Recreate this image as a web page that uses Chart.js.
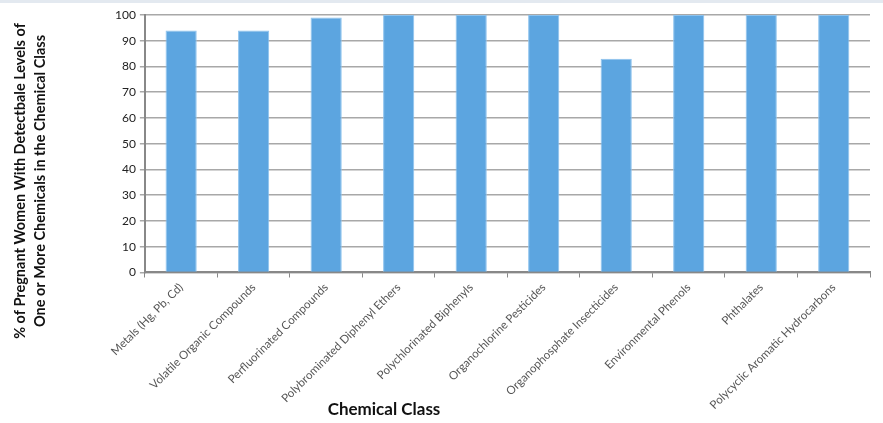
<!DOCTYPE html>
<html>
<head>
<meta charset="utf-8">
<script src="https://cdn.jsdelivr.net/npm/chart.js@4.4.1/dist/chart.umd.min.js"></script>
<style>
  html, body { margin: 0; padding: 0; background: #fff; }
  #wrap { width: 883px; height: 423px; position: relative; border-top: 3px solid #e3e9f0; box-sizing: border-box; }
</style>
</head>
<body>
<div id="wrap"><canvas id="chemChart"></canvas></div>
<script>
// Categories and values
const categories = [
    'Metals (Hg, Pb, Cd)',
    'Volatile Organic Compounds',
    'Perfluorinated Compounds',
    'Polybrominated Diphenyl Ethers',
    'Polychlorinated Biphenyls',
    'Organochlorine Pesticides',
    'Organophosphate Insecticides',
    'Environmental Phenols',
    'Phthalates',
    'Polycyclic Aromatic Hydrocarbons'
];
const percentDetected = [94, 94, 99, 100, 100, 100, 83, 100, 100, 100];
const yTitleLines = ['% of Pregnant Women With Detectbale Levels of', 'One or More Chemicals in the Chemical Class'];
const xTitle = 'Chemical Class';

// Draw axis titles ourselves so they sit where the original puts them
const axisTitles = {
    id: 'axisTitles',
    afterDraw(chart) {
        const c = chart.ctx;
        c.save();
        c.fillStyle = '#111';
        c.font = 'bold 14.5px Lato, "Open Sans", sans-serif';
        c.textAlign = 'center';
        c.textBaseline = 'middle';
        c.translate(30, 178);
        c.rotate(-Math.PI / 2);
        c.fillText(yTitleLines[0], 0, -10);
        c.fillText(yTitleLines[1], 0, 10);
        c.restore();

        c.save();
        c.fillStyle = '#111';
        c.font = 'bold 17px Lato, "Open Sans", sans-serif';
        c.textAlign = 'center';
        c.textBaseline = 'middle';
        c.fillText(xTitle, 384, 407);
        c.restore();
    }
};

const ctx = document.getElementById('chemChart').getContext('2d');
const chemChart = new Chart(ctx, {
    type: 'bar',
    data: {
        labels: categories,
        datasets: [{
            data: percentDetected,
            backgroundColor: '#5ca5e0',
            borderColor: '#8cc2ee',
            borderWidth: 1,
            barPercentage: 0.43,
            categoryPercentage: 1
        }]
    },
    options: {
        responsive: true,
        maintainAspectRatio: false,
        animation: false,
        layout: { padding: { left: 111, right: 13, top: 12, bottom: 8 } },
        plugins: { legend: { display: false }, tooltip: { enabled: false } },
        scales: {
            x: {
                grid: { display: true, drawOnChartArea: false, drawTicks: true, tickLength: 5, color: '#888', offset: true },
                border: { color: '#888', width: 2 },
                ticks: {
                    minRotation: 45, maxRotation: 45,
                    color: '#555',
                    font: { family: 'Lato, "Open Sans", sans-serif', size: 11.5 }
                }
            },
            y: {
                min: 0, max: 100,
                ticks: { stepSize: 10, color: '#222', font: { family: 'Lato, "Open Sans", sans-serif', size: 12 }, padding: 4 },
                grid: { color: '#a8a8a8', lineWidth: 1.5, tickLength: 5 },
                border: { color: '#888', width: 2 }
            }
        }
    },
    plugins: [axisTitles]
});
</script>
</body>
</html>
